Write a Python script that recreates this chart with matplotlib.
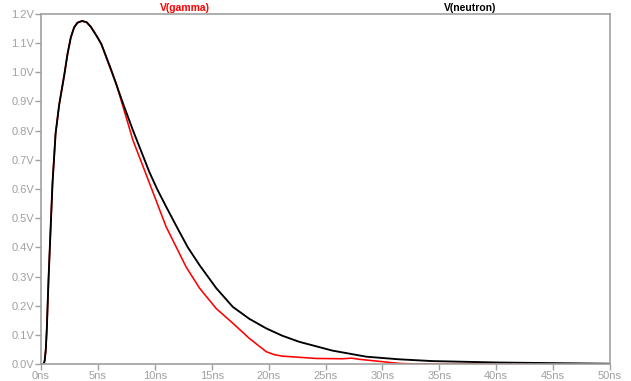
import numpy as np
import matplotlib.pyplot as plt

plt.rcParams['font.family'] = ['Liberation Sans', 'DejaVu Sans']

# time in ns, voltage in V
t_neutron = [0, 0.25, 0.33, 0.42, 0.51, 0.66, 0.86, 1.01, 1.28, 1.6, 2.04, 2.33, 2.62, 2.91,
             3.2, 3.6, 4.0, 4.38, 4.96, 5.3, 6.17, 7.19, 8.07, 9.1, 9.5, 10.2, 11.0, 12.0,
             12.9, 13.93, 15.4, 16.85, 18.3, 19.8, 21.2, 22.7, 25.6, 28.6, 31.5, 34.4,
             40.3, 45.0, 50.0]
v_neutron = [0, 0, 0.014, 0.05, 0.12, 0.29, 0.48, 0.62, 0.79, 0.89, 0.99, 1.063, 1.12, 1.154,
             1.170, 1.176, 1.172, 1.156, 1.12, 1.097, 1.008, 0.895, 0.802, 0.70, 0.66, 0.60, 0.539, 0.465,
             0.40, 0.339, 0.26, 0.196, 0.155, 0.122, 0.097, 0.076, 0.046, 0.025, 0.016, 0.010,
             0.005, 0.003, 0.001]

t_gamma = [0, 0.25, 0.33, 0.42, 0.51, 0.66, 0.86, 1.01, 1.28, 1.6, 2.04, 2.33, 2.62, 2.91,
           3.2, 3.6, 4.0, 4.38, 4.96, 5.3, 6.17, 6.6, 7.3, 8.07, 8.8, 9.53, 11.0, 12.02,
           12.76, 13.93, 15.4, 16.85, 18.3, 19.8, 20.5, 21.2, 24.2, 26.5, 27.3, 28.0,
           30.0, 31.5, 33.0, 50.0]
v_gamma = [0, 0, 0.014, 0.05, 0.12, 0.29, 0.48, 0.62, 0.79, 0.89, 0.99, 1.063, 1.12, 1.154,
           1.170, 1.176, 1.172, 1.156, 1.12, 1.097, 1.005, 0.962, 0.87, 0.768, 0.694, 0.62, 0.47, 0.39,
           0.332, 0.26, 0.19, 0.14, 0.088, 0.042, 0.032, 0.027, 0.019, 0.018, 0.020, 0.016,
           0.008, 0.002, 0.0, 0.0]

x_ticks = np.arange(0, 51, 5)
y_ticks = np.round(np.arange(0, 1.21, 0.1), 1)

grey = '#a0a0a0'

fig = plt.figure(figsize=(6.31, 3.81), dpi=100)
ax = fig.add_axes([0.065, 0.0446, 0.9017, 0.9187])

ax.plot(t_gamma, v_gamma, color='#ff0000', lw=1.15)
ax.plot(t_neutron, v_neutron, color='black', lw=1.35)

ax.set_xlim(0, 50)
ax.set_ylim(0, 1.2)
ax.set_xticks(x_ticks)
ax.set_xticklabels([f'{int(v)}ns' for v in x_ticks])
ax.set_yticks(y_ticks)
ax.set_yticklabels([f'{v:.1f}V' for v in y_ticks])
ax.tick_params(colors=grey, labelcolor=grey, labelsize=8, length=4, width=1, pad=1)
for s in ax.spines.values():
    s.set_color(grey)
    s.set_linewidth(1.2)

fig.text(185 / 631, 1 - 8 / 381, 'V(gamma)', color='#ff0000', fontsize=7.5,
         fontweight='bold', ha='center', va='center')
fig.text(470 / 631, 1 - 8 / 381, 'V(neutron)', color='black', fontsize=7.5,
         fontweight='bold', ha='center', va='center')

fig.savefig('out.png', dpi=100)
